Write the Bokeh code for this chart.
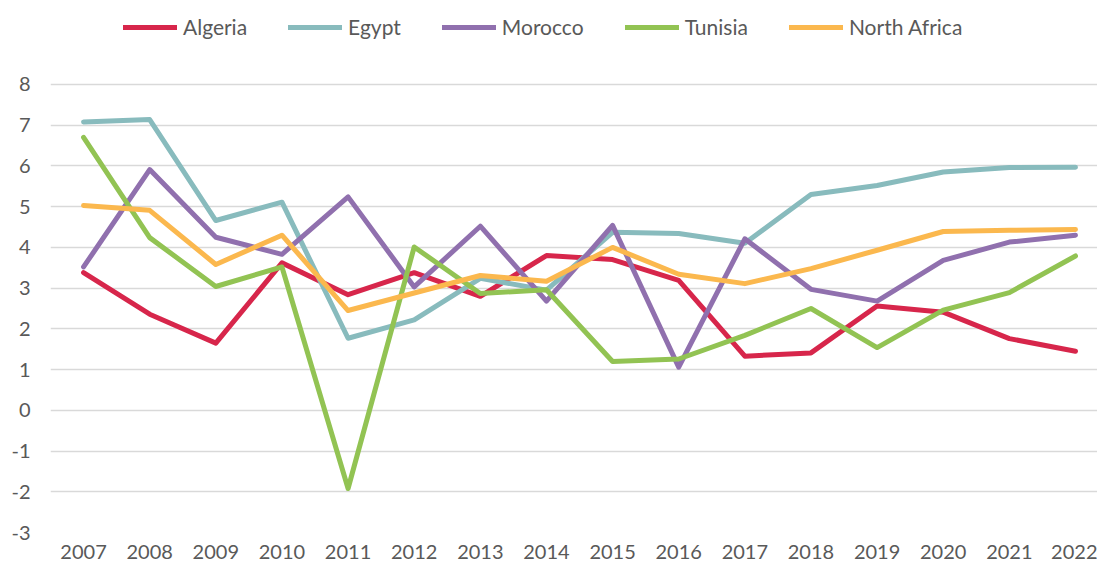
from bokeh.plotting import figure
from bokeh.models import Range1d, FixedTicker, Legend, LegendItem
from bokeh.embed import file_html
from bokeh.resources import INLINE

years = list(range(2007, 2023))
algeria = [3.38, 2.36, 1.65, 3.62, 2.84, 3.38, 2.80, 3.80, 3.70, 3.19, 1.33, 1.41, 2.56, 2.41, 1.76, 1.45]
egypt = [7.08, 7.14, 4.66, 5.11, 1.77, 2.22, 3.24, 2.95, 4.37, 4.34, 4.10, 5.30, 5.52, 5.85, 5.96, 5.97]
morocco = [3.52, 5.91, 4.25, 3.83, 5.24, 3.03, 4.52, 2.68, 4.54, 1.06, 4.21, 2.97, 2.68, 3.68, 4.13, 4.30]
tunisia = [6.70, 4.24, 3.04, 3.52, -1.92, 4.01, 2.87, 2.96, 1.20, 1.26, 1.84, 2.50, 1.54, 2.46, 2.89, 3.79]
north_africa = [5.03, 4.91, 3.58, 4.30, 2.45, 2.88, 3.31, 3.17, 4.00, 3.34, 3.11, 3.48, 3.93, 4.39, 4.42, 4.44]

series_names = ["Algeria", "Egypt", "Morocco", "Tunisia", "North Africa"]
series_values = [algeria, egypt, morocco, tunisia, north_africa]
colors = ["#D7264B", "#88BBBD", "#9070AE", "#92C353", "#FBB84E"]
y_ticks = list(range(-3, 9))

FONT = "Lato"
TXT = "#595959"

# frame spans the full height; y range above 8 leaves room for the legend
p = figure(width=1097, height=574, output_backend="svg", toolbar_location=None,
           x_range=Range1d(2006.5, 2022.333), y_range=Range1d(-3, 10.062),
           min_border_left=50, min_border_right=0, min_border_top=0, min_border_bottom=42)
p.outline_line_color = None
p.background_fill_color = "white"
p.border_fill_color = "white"

p.xgrid.grid_line_color = None
p.ygrid.ticker = FixedTicker(ticks=y_ticks)
p.ygrid.grid_line_color = "#D9D9D9"
p.ygrid.grid_line_width = 1.6

p.xaxis.ticker = FixedTicker(ticks=years)
p.xaxis.major_label_overrides = {y: str(y) for y in years}
p.yaxis.ticker = FixedTicker(ticks=y_ticks)
p.yaxis.major_label_overrides = {t: str(t) for t in y_ticks}
for ax in (p.xaxis, p.yaxis):
    ax.axis_line_color = None
    ax.major_tick_line_color = None
    ax.minor_tick_line_color = None
    ax.major_tick_out = 0
    ax.major_tick_in = 0
    ax.minor_tick_out = 0
    ax.minor_tick_in = 0
    ax.major_label_text_font = FONT
    ax.major_label_text_font_size = "20px"
    ax.major_label_text_color = TXT
p.xaxis.major_label_standoff = 12
p.yaxis.major_label_standoff = 20

items = []
for name, vals, col in zip(series_names, series_values, colors):
    r = p.line(years, vals, line_color=col, line_width=5, line_cap="round", line_join="round")
    items.append(LegendItem(label=name, renderers=[r]))

legend = Legend(items=items, orientation="horizontal", location=(73, 493),
                glyph_width=54, glyph_height=20, label_standoff=6, spacing=41,
                padding=0, margin=0, border_line_color=None, background_fill_alpha=0,
                label_text_font=FONT, label_text_font_size="21px", label_text_color=TXT)
p.add_layout(legend)

open("out.html", "w").write(file_html(p, INLINE))
